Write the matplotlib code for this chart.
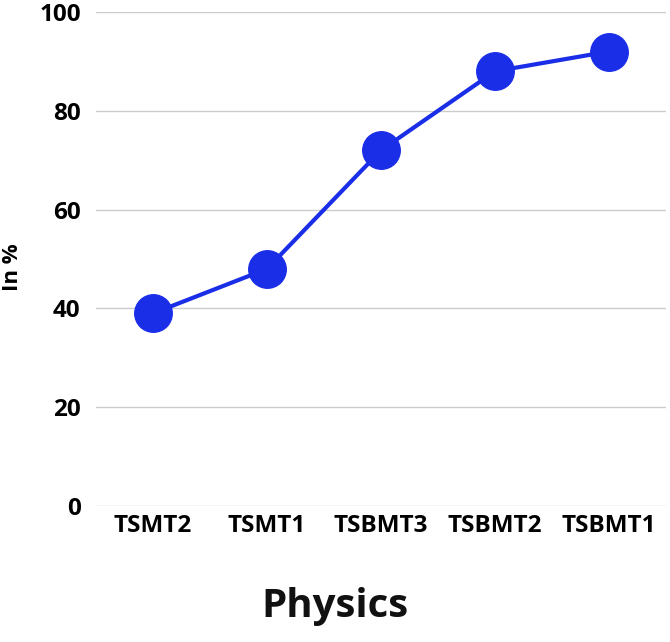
import matplotlib
matplotlib.use("Agg")
import matplotlib.pyplot as plt

categories = ["TSMT2", "TSMT1", "TSBMT3", "TSBMT2", "TSBMT1"]
values = [39, 48, 72, 88, 92]
yticks = [0, 20, 40, 60, 80, 100]

plt.rcParams['font.family'] = ['Open Sans', 'DejaVu Sans']

fig = plt.figure(figsize=(6.70, 6.42), dpi=100)
ax = fig.add_axes([96/670, 1 - 506/642, 570/670, (506 - 12)/642])

x = list(range(len(categories)))
ax.plot(x, values, color='#1a2ee8', linewidth=3, marker='o', markersize=27,
        markerfacecolor='#1a2ee8', markeredgecolor='#1a2ee8', zorder=3, clip_on=False)

ax.set_xlim(-0.5, len(categories) - 0.5)
ax.set_ylim(0, 100)
ax.set_yticks(yticks)
ax.set_xticks(x)
ax.set_xticklabels(categories, fontsize=17.5, fontweight='bold')
ax.set_yticklabels([str(v) for v in yticks], fontsize=17.5, fontweight='bold')
ax.grid(axis='y', color='#cccccc', linewidth=1)
ax.set_axisbelow(True)
for s in ax.spines.values():
    s.set_visible(False)
ax.tick_params(axis='both', length=0)
ax.tick_params(axis='y', pad=11)
ax.tick_params(axis='x', pad=6)

fig.text(13/670, 1 - 267/642, "In %", rotation=90, ha='center', va='center',
         fontsize=16, fontweight='bold')
fig.text(335/670, 1 - 607/642, "Physics", ha='center', va='center', fontsize=29,
         fontweight='bold', color='#111111')

fig.savefig("out.png", dpi=100, facecolor='white')
